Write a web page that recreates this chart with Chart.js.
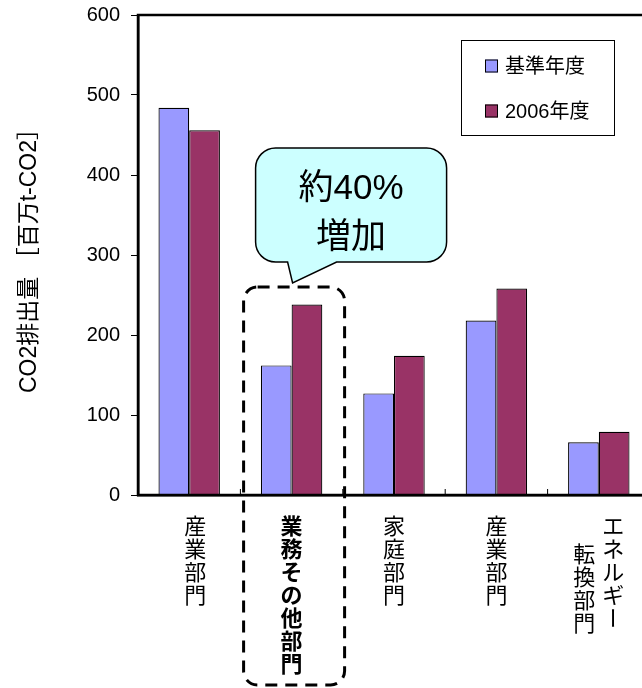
<!DOCTYPE html>
<html>
<head>
<meta charset="utf-8">
<script src="https://cdn.jsdelivr.net/npm/chart.js@4.4.0/dist/chart.umd.min.js"></script>
<style>
    body { margin: 0; background: #fff; overflow: hidden; }
    #wrap { width: 642px; height: 688px; overflow: hidden; }
</style>
</head>
<body>
<div id="wrap"><canvas id="myChart" width="652" height="688"></canvas></div>
<script>
// data
var categories = ['産業部門', '業務その他部門', '家庭部門', '産業部門', 'エネルギー転換部門'];
var labelColumns = [['産業部門'], ['業務その他部門'], ['家庭部門'], ['産業部門'], ['エネルギー', '転換部門']];
var labelBold = [false, true, false, false, false];
var seriesNames = ['基準年度', '2006年度'];
var baseYear = [484, 162, 127, 218, 66];
var fy2006 = [456, 238, 174, 258, 79];
var yTicks = [0, 100, 200, 300, 400, 500, 600];
var calloutText = ['約40%', '増加'];

var FONT = "'Liberation Sans', 'Noto Sans CJK JP', sans-serif";
var JFONT = "'Noto Sans CJK JP', sans-serif";

function roundRect(ctx, l, t, r, b, rad) {
    ctx.moveTo(l + rad, t);
    ctx.lineTo(r - rad, t);
    ctx.arcTo(r, t, r, t + rad, rad);
    ctx.lineTo(r, b - rad);
    ctx.arcTo(r, b, r - rad, b, rad);
    ctx.lineTo(l + rad, b);
    ctx.arcTo(l, b, l, b - rad, rad);
    ctx.lineTo(l, t + rad);
    ctx.arcTo(l, t, l + rad, t, rad);
    ctx.closePath();
}

const overlay = {
    id: 'overlay',
    afterDatasetsDraw(chart) {
        const ctx = chart.ctx, a = chart.chartArea, x = chart.scales.x;
        ctx.save();
        ctx.strokeStyle = '#000';
        ctx.lineWidth = 2.5;
        ctx.strokeRect(a.left, a.top, a.right - a.left, a.bottom - a.top);
        // small ticks between the categories
        ctx.lineWidth = 1;
        for (let i = 1; i < categories.length; i++) {
            const bx = (x.getPixelForValue(i - 1) + x.getPixelForValue(i)) / 2;
            ctx.beginPath();
            ctx.moveTo(bx, a.bottom);
            ctx.lineTo(bx, a.bottom - 6);
            ctx.stroke();
        }
        ctx.restore();
    },
    afterDraw(chart) {
        const ctx = chart.ctx, a = chart.chartArea, x = chart.scales.x;
        ctx.save();

        // vertical category labels
        ctx.fillStyle = '#000';
        ctx.textAlign = 'center';
        ctx.textBaseline = 'middle';
        const step = 23;
        for (let i = 0; i < labelColumns.length; i++) {
            const cols = labelColumns[i];
            ctx.font = (labelBold[i] ? 'bold ' : '') + '22px ' + JFONT;
            const cx = x.getPixelForValue(i) + (i === 0 ? 6 : 0);
            for (let c = 0; c < cols.length; c++) {
                // japanese vertical text: first column on the right
                const colX = cx + ((cols.length - 1) / 2 - c) * 29;
                const startY = a.bottom + 31 + c * 28;
                const chars = Array.from(cols[c]);
                for (let k = 0; k < chars.length; k++) {
                    const cy = startY + k * step;
                    if (chars[k] === 'ー') {
                        ctx.save();
                        ctx.translate(colX, cy);
                        ctx.rotate(Math.PI / 2);
                        ctx.fillText(chars[k], 0, 0);
                        ctx.restore();
                    } else {
                        ctx.fillText(chars[k], colX, cy);
                    }
                }
            }
        }

        // legend box
        ctx.fillStyle = '#fff';
        ctx.fillRect(461, 40, 153, 95);
        ctx.strokeStyle = '#000';
        ctx.lineWidth = 1;
        ctx.strokeRect(461.5, 40.5, 153, 95);
        ctx.font = '20px ' + FONT;
        ctx.textAlign = 'left';
        chart.data.datasets.forEach(function (ds, i) {
            const ly = 66 + i * 45;
            ctx.fillStyle = ds.backgroundColor;
            ctx.fillRect(485, ly - 6.5, 13, 13);
            ctx.strokeRect(485.5, ly - 6, 12, 12);
            ctx.fillStyle = '#000';
            ctx.fillText(ds.label, 505, ly + 1);
        });

        // dashed box round category 2
        const xc = x.getPixelForValue(1);
        ctx.beginPath();
        roundRect(ctx, xc - 48, 287, xc + 53, 685, 14);
        ctx.setLineDash([12, 8]);
        ctx.lineWidth = 3;
        ctx.strokeStyle = '#000';
        ctx.stroke();
        ctx.setLineDash([]);

        // callout
        const l = xc - 36, r = xc + 155, t = 148, b = 262, rad = 20;
        ctx.beginPath();
        ctx.moveTo(l + rad, t);
        ctx.lineTo(r - rad, t);
        ctx.arcTo(r, t, r, t + rad, rad);
        ctx.lineTo(r, b - rad);
        ctx.arcTo(r, b, r - rad, b, rad);
        ctx.lineTo(xc + 45, b);
        ctx.lineTo(xc + 1, 283);
        ctx.lineTo(xc - 4, b);
        ctx.lineTo(l + rad, b);
        ctx.arcTo(l, b, l, b - rad, rad);
        ctx.lineTo(l, t + rad);
        ctx.arcTo(l, t, l + rad, t, rad);
        ctx.closePath();
        ctx.fillStyle = '#CCFFFF';
        ctx.fill();
        ctx.lineWidth = 1.5;
        ctx.stroke();
        ctx.fillStyle = '#000';
        ctx.textAlign = 'center';
        ctx.font = '35px ' + FONT;
        ctx.fillText(calloutText[0], (l + r) / 2, 189);
        ctx.fillText(calloutText[1], (l + r) / 2, 238);

        ctx.restore();
    }
};

new Chart('myChart', {
    type: 'bar',
    data: {
        labels: categories,
        datasets: [{
            label: seriesNames[0],
            data: baseYear,
            backgroundColor: '#9999FF',
            borderColor: '#000',
            borderWidth: 1.2,
            categoryPercentage: 0.6,
            barPercentage: 1.0
        }, {
            label: seriesNames[1],
            data: fy2006,
            backgroundColor: '#993366',
            borderColor: '#000',
            borderWidth: 1.2,
            categoryPercentage: 0.6,
            barPercentage: 1.0
        }]
    },
    options: {
        responsive: false,
        animation: false,
        layout: {
            padding: { top: 15, right: 2, left: 0, bottom: 0 }
        },
        plugins: {
            legend: { display: false },
            tooltip: { enabled: false }
        },
        scales: {
            x: {
                offset: true,
                ticks: { display: false },
                grid: { display: false },
                border: { color: '#000', width: 2.5 },
                afterFit: function (scale) { scale.height = 193; }
            },
            y: {
                min: 0,
                max: 600,
                afterBuildTicks: function (scale) {
                    scale.ticks = yTicks.map(function (v) { return { value: v }; });
                },
                ticks: {
                    color: '#000',
                    padding: 11,
                    font: { family: FONT, size: 20 }
                },
                grid: {
                    drawOnChartArea: false,
                    tickLength: 7,
                    tickColor: '#000'
                },
                border: { color: '#000', width: 2.5 },
                title: {
                    display: true,
                    text: 'CO2排出量 ［百万t-CO2］',
                    color: '#000',
                    padding: { top: 16, bottom: 0 },
                    font: { family: FONT, size: 23 }
                },
                afterFit: function (scale) {
                    scale.width = 138;
                    scale.paddingTop = 0;
                    scale.paddingBottom = 0;
                }
            }
        }
    },
    plugins: [overlay]
});
</script>
</body>
</html>
